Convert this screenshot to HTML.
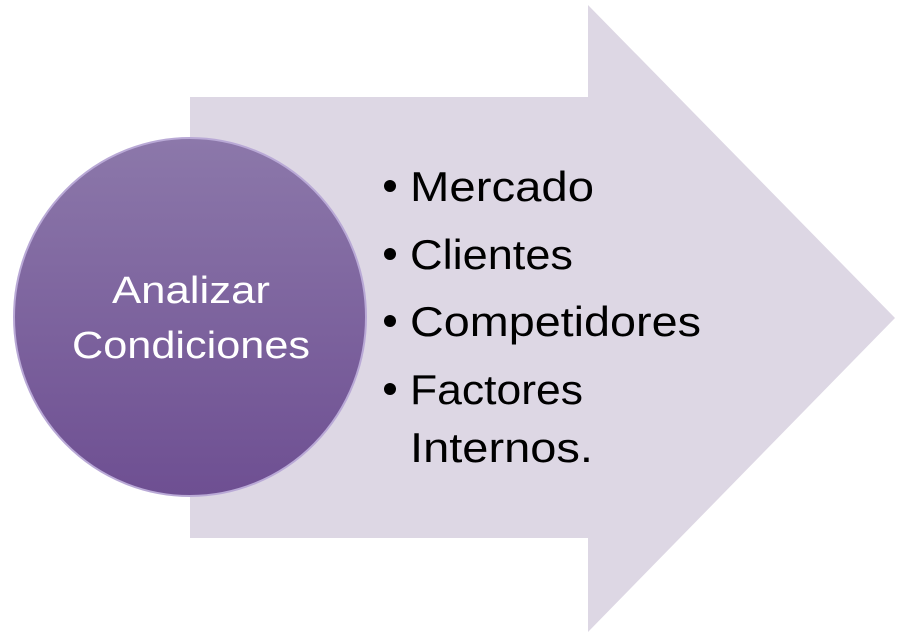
<!DOCTYPE html>
<html><head><meta charset="utf-8"><style>html,body{margin:0;padding:0;background:#fff}</style></head><body>
<svg width="900" height="635" viewBox="0 0 900 635" xmlns="http://www.w3.org/2000/svg" font-family="Liberation Sans, sans-serif">
<defs>
<linearGradient id="g" x1="0" y1="0" x2="0" y2="1">
<stop offset="0" stop-color="#8c78aa"/><stop offset="1" stop-color="#6e4f92"/>
</linearGradient>
</defs>
<polygon points="190,97 588,97 588,5 895,318 588,632 588,538 190,538" fill="#ddd7e4"/>
<ellipse cx="190" cy="317" rx="176" ry="179" fill="url(#g)" stroke="#b9a9d6" stroke-width="2"/>
<g fill="#fff" font-size="38" text-anchor="middle">
<text x="191" y="303" textLength="158" lengthAdjust="spacingAndGlyphs">Analizar</text>
<text x="191" y="358" textLength="238" lengthAdjust="spacingAndGlyphs">Condiciones</text>
</g>
<g fill="#000" font-size="42">
<circle cx="390" cy="186" r="6"/><circle cx="390" cy="254" r="6"/><circle cx="390" cy="321" r="6"/><circle cx="390" cy="389" r="6"/>
<text x="410" y="201" textLength="184" lengthAdjust="spacingAndGlyphs">Mercado</text>
<text x="410" y="269" textLength="163" lengthAdjust="spacingAndGlyphs">Clientes</text>
<text x="410" y="336" textLength="291" lengthAdjust="spacingAndGlyphs">Competidores</text>
<text x="410" y="404" textLength="173" lengthAdjust="spacingAndGlyphs">Factores</text>
<text x="410" y="462" textLength="183" lengthAdjust="spacingAndGlyphs">Internos.</text>
</g>
</svg>
</body></html>
